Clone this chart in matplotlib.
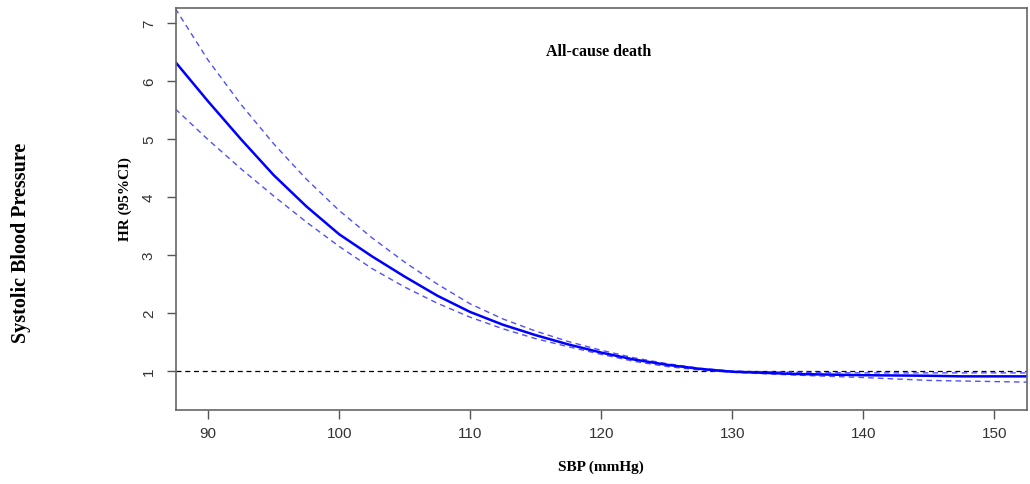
import matplotlib
matplotlib.use('Agg')
import matplotlib.pyplot as plt

# SBP grid (mmHg) and hazard ratios
sbp = [87.5, 90, 92.5, 95, 97.5, 100, 102.5, 105, 107.5, 110, 112.5, 115,
       117.5, 120, 122.5, 125, 127.5, 130, 135, 140, 145, 147.5, 150, 152.5]
hr = [6.33, 5.65, 5.00, 4.38, 3.84, 3.36, 2.98, 2.63, 2.30, 2.02, 1.80, 1.62,
      1.46, 1.32, 1.20, 1.11, 1.04, 0.99, 0.95, 0.93, 0.92, 0.91, 0.91, 0.91]
hr_upper = [7.25, 6.36, 5.60, 4.92, 4.31, 3.77, 3.30, 2.88, 2.50, 2.16, 1.90, 1.69,
            1.51, 1.36, 1.23, 1.13, 1.05, 1.00, 0.98, 0.97, 0.97, 0.97, 0.97, 0.97]
hr_lower = [5.52, 4.99, 4.49, 4.02, 3.57, 3.15, 2.77, 2.45, 2.17, 1.93, 1.73, 1.56,
            1.42, 1.29, 1.17, 1.08, 1.02, 0.98, 0.93, 0.89, 0.84, 0.83, 0.82, 0.81]

xticks = [90, 100, 110, 120, 130, 140, 150]
yticks = [1, 2, 3, 4, 5, 6, 7]

serif = ['Liberation Serif', 'DejaVu Serif']
sans = ['Liberation Sans', 'DejaVu Sans']

fig = plt.figure(figsize=(10.3, 4.85), dpi=100)
ax = fig.add_axes([0.1709, 0.1526, 0.8261, 0.8288])

# reference line at HR = 1, then the CI band edges and the estimate
ax.axhline(1, color='black', lw=0.9, ls=(0, (4, 3)))
ax.plot(sbp, hr_upper, color='#4f4fff', lw=1.0, ls=(0, (4, 3)))
ax.plot(sbp, hr_lower, color='#4f4fff', lw=1.0, ls=(0, (4, 3)))
ax.plot(sbp, hr, color='#0000ff', lw=1.8)

ax.set_xlim(87.55, 152.5)
ax.set_ylim(0.33, 7.26)
ax.set_xticks(xticks)
ax.set_yticks(yticks)
ax.set_xticklabels([str(t) for t in xticks], family=sans, fontsize=11, color='#333333')
ax.set_yticklabels([str(t) for t in yticks], family=sans, fontsize=11, color='#333333',
                   rotation=90, va='center')
ax.tick_params(direction='out', length=6.5, width=1, color='#555555', pad=5)
ax.tick_params(axis='y', pad=8)

for s in ax.spines.values():
    s.set_color('#666666')
    s.set_linewidth(1.2)

ax.text(119.8, 6.52, 'All-cause death', family=serif, fontsize=11.5, fontweight='bold',
        ha='center', va='center')

fig.text(0.122, 0.59, 'HR (95%CI)', family=serif, fontsize=11, fontweight='bold',
         rotation=90, ha='center', va='center')
fig.text(0.583, 0.037, 'SBP (mmHg)', family=serif, fontsize=11, fontweight='bold',
         ha='center', va='center')
fig.text(0.02, 0.50, 'Systolic Blood Pressure', family=serif, fontsize=14.5,
         fontweight='bold', rotation=90, ha='center', va='center')

fig.savefig('out.png', dpi=100)
